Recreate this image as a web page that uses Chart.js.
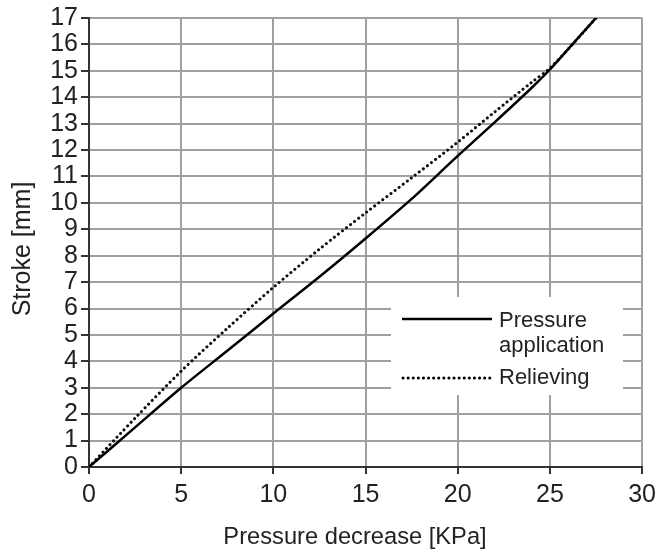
<!DOCTYPE html>
<html><head><meta charset="utf-8">
<script src="https://cdn.jsdelivr.net/npm/chart.js@4/dist/chart.umd.min.js"></script>
<style>html,body{margin:0;padding:0;background:#fff}#wrap{width:662px;height:552px}</style>
</head><body><div id="wrap"><canvas id="c" width="662" height="552"></canvas></div>
<script>
const xTickValues = [0, 5, 10, 15, 20, 25, 30];
const yTickValues = [0,1,2,3,4,5,6,7,8,9,10,11,12,13,14,15,16,17];
const seriesLabels = ['Pressure application', 'Relieving'];
const applicationX = [0, 2.5, 5, 7.5, 10, 12.5, 15, 17.5, 20, 22, 24, 25, 26, 27.5];
const applicationY = [0, 1.5, 3.0, 4.4, 5.81, 7.2, 8.65, 10.15, 11.78, 13.05, 14.35, 15.05, 15.83, 17];
const relievingX = [0, 2.5, 5, 7.5, 10, 12.5, 15, 17.5, 20, 22, 24, 25, 26, 27.5];
const relievingY = [0, 1.85, 3.63, 5.25, 6.8, 8.25, 9.62, 10.95, 12.3, 13.44, 14.56, 15.1, 15.83, 17];
const xTitle = 'Pressure decrease [KPa]';
const yTitle = 'Stroke [mm]';

const FONT = "'Liberation Sans', Arial, Helvetica, sans-serif";
const pts = (xs, ys) => xs.map((x, i) => ({x, y: ys[i]}));

const legendPlugin = {
  id: 'boxLegend',
  beforeDatasetsDraw(chart) {
    const ctx = chart.ctx;
    ctx.save();
    ctx.fillStyle = '#fff';
    ctx.fillRect(391, 297, 232, 98);
    ctx.strokeStyle = '#000';
    ctx.lineWidth = 2.5;
    ctx.beginPath(); ctx.moveTo(402, 319); ctx.lineTo(492, 319); ctx.stroke();
    ctx.lineWidth = 3; ctx.lineCap = 'round'; ctx.setLineDash([0.1, 5]);
    ctx.beginPath(); ctx.moveTo(403, 378); ctx.lineTo(491, 378); ctx.stroke();
    ctx.setLineDash([]);
    ctx.fillStyle = '#222';
    ctx.font = '22px ' + FONT;
    ctx.textAlign = 'left'; ctx.textBaseline = 'alphabetic';
    const l1 = seriesLabels[0].split(' ');
    ctx.fillText(l1[0], 499, 327);
    ctx.fillText(l1[1], 499, 352);
    ctx.fillText(seriesLabels[1], 499, 384);
    ctx.restore();
  }
};

const titlePlugin = {
  id: 'axisTitles',
  afterDraw(chart) {
    const ctx = chart.ctx;
    ctx.save();
    ctx.fillStyle = '#222';
    ctx.textAlign = 'center'; ctx.textBaseline = 'alphabetic';
    ctx.font = '23.7px ' + FONT;
    ctx.fillText(xTitle, 355, 544);
    ctx.font = '25px ' + FONT;
    ctx.translate(30, 249);
    ctx.rotate(-Math.PI / 2);
    ctx.fillText(yTitle, 0, 0);
    ctx.restore();
  }
};

new Chart(document.getElementById('c'), {
  type: 'line',
  data: {
    datasets: [
      {
        label: seriesLabels[0],
        data: pts(applicationX, applicationY),
        borderColor: '#000', borderWidth: 2.5,
        pointRadius: 0, tension: 0.3, fill: false
      },
      {
        label: seriesLabels[1],
        data: pts(relievingX, relievingY),
        borderColor: '#111', borderWidth: 3,
        borderDash: [0.1, 5], borderCapStyle: 'round',
        pointRadius: 0, tension: 0.3, fill: false
      }
    ]
  },
  options: {
    responsive: false, animation: false, devicePixelRatio: 1,
    layout: {padding: {top: 13, right: 15, left: 0, bottom: 0}},
    plugins: {legend: {display: false}, tooltip: {enabled: false}},
    scales: {
      x: {
        type: 'linear', min: 0, max: 30,
        afterBuildTicks: s => { s.ticks = xTickValues.map(v => ({value: v})); },
        afterFit: s => { s.height = 85; },
        ticks: {color: '#222', font: {family: FONT, size: 25}, padding: 6, maxRotation: 0},
        grid: {color: '#a0a0a0', lineWidth: 2, tickLength: 7, tickColor: '#333', tickWidth: 2},
        border: {color: '#333', width: 2}
      },
      y: {
        type: 'linear', min: 0, max: 17,
        afterBuildTicks: s => { s.ticks = yTickValues.map(v => ({value: v})); },
        afterFit: s => { s.width = 89; },
        ticks: {color: '#222', font: {family: FONT, size: 25}, padding: 3, autoSkip: false},
        grid: {color: '#a0a0a0', lineWidth: 2, tickLength: 8, tickColor: '#333', tickWidth: 2},
        border: {color: '#333', width: 2}
      }
    }
  },
  plugins: [legendPlugin, titlePlugin]
});
</script>
</body></html>
